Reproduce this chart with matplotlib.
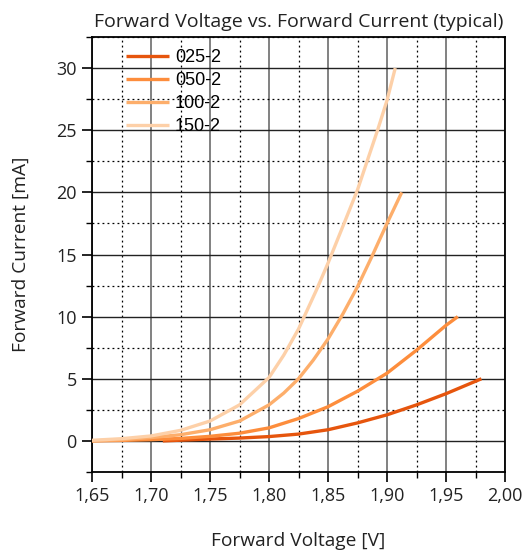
import matplotlib
matplotlib.use("Agg")
import matplotlib.pyplot as plt
from matplotlib.ticker import MultipleLocator, FuncFormatter

# Data
v_025 = [1.71, 1.73, 1.75, 1.775, 1.80, 1.825, 1.85, 1.875, 1.90, 1.925, 1.95, 1.98]
i_025 = [0.0, 0.08, 0.15, 0.23, 0.35, 0.55, 0.9, 1.45, 2.1, 2.9, 3.8, 5.0]

v_050 = [1.65, 1.675, 1.70, 1.725, 1.75, 1.775, 1.80, 1.825, 1.85, 1.875, 1.90, 1.925, 1.95, 1.96]
i_050 = [0.0, 0.04, 0.1, 0.2, 0.37, 0.62, 1.05, 1.8, 2.75, 4.0, 5.45, 7.3, 9.3, 10.0]

v_100 = [1.65, 1.675, 1.70, 1.725, 1.75, 1.775, 1.80, 1.8125, 1.825, 1.8375, 1.85, 1.8625, 1.875, 1.8875, 1.90, 1.9125]
i_100 = [0.0, 0.1, 0.27, 0.5, 0.9, 1.6, 2.9, 3.85, 5.0, 6.5, 8.2, 10.2, 12.4, 14.9, 17.5, 20.0]

v_150 = [1.65, 1.675, 1.70, 1.725, 1.75, 1.775, 1.80, 1.8125, 1.825, 1.84, 1.85, 1.8636, 1.875, 1.892, 1.90, 1.907]
i_150 = [0.05, 0.18, 0.4, 0.85, 1.6, 2.9, 5.1, 6.9, 9.0, 12.1, 14.3, 17.5, 20.2, 25.0, 27.4, 30.0]

labels = ["025-2", "050-2", "100-2", "150-2"]
colors = ["#e6550d", "#fd8d3c", "#fdae6b", "#fdd0a8"]

title = "Forward Voltage vs. Forward Current (typical)"
xlabel = "Forward Voltage [V]"
ylabel = "Forward Current [mA]"

plt.rcParams['font.family'] = ['Open Sans', 'DejaVu Sans']

fig = plt.figure(figsize=(5.26, 5.52), dpi=100)
ax = fig.add_axes([92/526, 80/552, 413/526, 435/552])

series = [(v_025, i_025), (v_050, i_050), (v_100, i_100), (v_150, i_150)]
for (v, i), lab, col in zip(series, labels, colors):
    ax.plot(v, i, color=col, lw=2.4, label=lab, solid_capstyle='butt',
            solid_joinstyle='round', zorder=3)

ax.set_xlim(1.65, 2.00)
ax.set_ylim(-2.5, 32.5)
ax.xaxis.set_major_locator(MultipleLocator(0.05))
ax.xaxis.set_minor_locator(MultipleLocator(0.025))
ax.yaxis.set_major_locator(MultipleLocator(5))
ax.yaxis.set_minor_locator(MultipleLocator(2.5))
ax.xaxis.set_major_formatter(FuncFormatter(lambda x, p: f"{x:.2f}".replace('.', ',')))
ax.yaxis.set_major_formatter(FuncFormatter(lambda y, p: f"{y:.0f}"))

ax.grid(which='major', axis='x', color='#777777', lw=1.3, ls='-')
ax.grid(which='major', axis='y', color='#222222', lw=1.0, ls='-')
ax.grid(which='minor', color='black', lw=0.9, ls=(0, (1.5, 2.5)))
ax.set_axisbelow(True)

ax.tick_params(which='major', direction='out', length=7, width=1.2, labelsize=13,
               colors='black', labelcolor='#222222', pad=4)
ax.tick_params(which='minor', direction='out', length=4, width=1.0)
for s in ax.spines.values():
    s.set_linewidth(1.3)

ax.set_title(title, fontsize=14, pad=7, color='#222222')
ax.set_xlabel(xlabel, fontsize=13.8, labelpad=19, color='#222222')
ax.set_ylabel(ylabel, fontsize=13.8, labelpad=19, color='#222222')

leg = ax.legend(loc='upper left', bbox_to_anchor=(0.044, 1.009), frameon=False,
                handlelength=2.38, handletextpad=0.3, labelspacing=0.33,
                prop={'family': 'Liberation Sans', 'size': 13})

fig.savefig("out.png", dpi=100)
